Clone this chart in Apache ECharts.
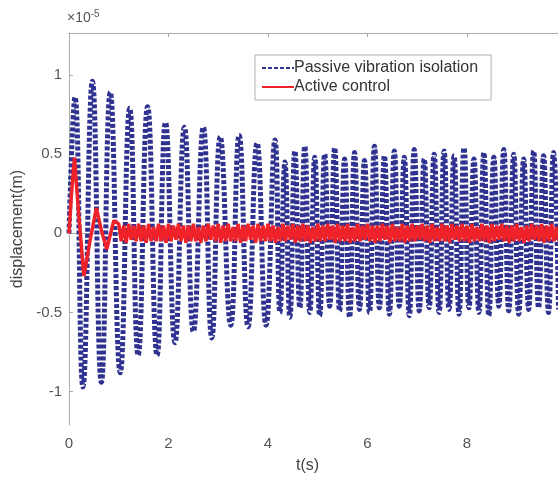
<!DOCTYPE html>
<html>
<head>
<meta charset="utf-8">
<script src="https://cdn.jsdelivr.net/npm/echarts@6/dist/echarts.min.js"></script>
<style>html,body{margin:0;padding:0;background:#fff}#c{width:558px;height:481px}</style>
</head>
<body>
<div id="c"></div>
<script>
// x tick labels and y tick labels (y in units of 1e-5 m)
const xTicks = [0, 2, 4, 6, 8];
const yTicks = [-1, -0.5, 0, 0.5, 1];

// Passive vibration isolation: extrema (t in s, displacement in 1e-5 m)
const passiveT = [0, 0.12, 0.28, 0.47, 0.65, 0.83, 1.03, 1.22, 1.39, 1.58, 1.77, 1.94, 2.13, 2.32, 2.50, 2.70, 2.87, 3.04, 3.25, 3.42, 3.60, 3.78, 3.96,
  4.14, 4.24, 4.34, 4.44, 4.54, 4.64, 4.74, 4.84, 4.94, 5.04, 5.14, 5.24, 5.34, 5.44, 5.54, 5.64, 5.74, 5.84, 5.94, 6.04,
  6.14, 6.24, 6.34, 6.44, 6.54, 6.64, 6.74, 6.84, 6.94, 7.04, 7.14, 7.24, 7.34, 7.44, 7.54, 7.64, 7.74, 7.84, 7.94, 8.04,
  8.14, 8.24, 8.34, 8.44, 8.54, 8.64, 8.74, 8.84, 8.94, 9.04, 9.14, 9.24, 9.34, 9.44, 9.54, 9.64, 9.74, 9.84];
const passiveV = [0, 0.86, -0.97, 0.96, -0.94, 0.89, -0.88, 0.79, -0.77, 0.80, -0.77, 0.70, -0.69, 0.67, -0.62, 0.67, -0.66, 0.61, -0.58, 0.62, -0.59, 0.57, -0.58,
  0.59, -0.50, 0.45, -0.53, 0.52, -0.47, 0.55, -0.50, 0.48, -0.52, 0.50, -0.46, 0.54, -0.49, 0.47, -0.53, 0.51, -0.48, 0.46, -0.50,
  0.55, -0.47, 0.49, -0.51, 0.52, -0.46, 0.48, -0.52, 0.53, -0.49, 0.47, -0.47, 0.50, -0.50, 0.52, -0.48, 0.49, -0.51, 0.54, -0.47,
  0.47, -0.50, 0.51, -0.52, 0.48, -0.46, 0.53, -0.49, 0.50, -0.51, 0.47, -0.48, 0.52, -0.47, 0.49, -0.50, 0.51, -0.48];

// Active control: initial transient extrema
const activeT0 = [0, 0.05, 0.11, 0.20, 0.30, 0.42, 0.55, 0.65, 0.76, 0.90];
const activeV0 = [0, 0.25, 0.48, 0.10, -0.27, -0.05, 0.16, 0.02, -0.10, 0.08];
// Active control: residual band, sampled every 0.05 s from t = 1.0 s
const activeBandStart = 1.0;
const activeBandStep = 0.05;
const activeBand = [
 0.06,-0.05,0.05,-0.06,0.06,-0.04,0.05,-0.05,0.06,-0.05,
 0.05,-0.06,0.06,-0.05,0.04,-0.05,0.06,-0.05,0.05,-0.06,
 0.06,-0.05,0.05,-0.04,0.06,-0.05,0.05,-0.06,0.05,-0.05,
 0.06,-0.05,0.04,-0.06,0.05,-0.05,0.06,-0.04,0.05,-0.05,
 0.06,-0.06,0.05,-0.05,0.06,-0.05,0.04,-0.05,0.06,-0.06,
 0.05,-0.05,0.06,-0.04,0.05,-0.06,0.06,-0.05,0.05,-0.05,
 0.06,-0.05,0.05,-0.06,0.04,-0.05,0.06,-0.05,0.05,-0.04,
 0.06,-0.06,0.05,-0.05,0.06,-0.05,0.05,-0.06,0.04,-0.05,
 0.06,-0.05,0.05,-0.05,0.06,-0.04,0.05,-0.06,0.06,-0.05,
 0.05,-0.05,0.06,-0.06,0.04,-0.05,0.06,-0.05,0.05,-0.04,
 0.06,-0.05,0.05,-0.06,0.05,-0.05,0.06,-0.04,0.05,-0.06,
 0.06,-0.05,0.04,-0.05,0.06,-0.06,0.05,-0.05,0.06,-0.05,
 0.05,-0.04,0.06,-0.05,0.05,-0.06,0.06,-0.05,0.04,-0.05,
 0.06,-0.05,0.05,-0.06,0.06,-0.04,0.05,-0.05,0.06,-0.05,
 0.05,-0.06,0.06,-0.05,0.04,-0.05,0.06,-0.05,0.05,-0.06,
 0.06,-0.05,0.05,-0.04,0.06,-0.05,0.05,-0.06,0.05,-0.05,
 0.06,-0.05,0.04,-0.06,0.05,-0.05,0.06,-0.04,0.05,-0.05,
 0.06,-0.06,0.05,-0.05,0.06,-0.05,0.04,-0.05,0.06,-0.05
];

const passiveData = passiveT.map((t, i) => [t, passiveV[i]]);
const activeData = activeT0.map((t, i) => [t, activeV0[i]])
  .concat(activeBand.map((v, i) => [activeBandStart + i * activeBandStep, v]));

const axisColor = '#ababab';
const labelColor = '#555';
const font = 'Liberation Sans, Arial, sans-serif';
const xMax = 9.83; // the picture is cropped just before t = 10

const chart = echarts.init(document.getElementById('c'), null, {renderer: 'canvas'});
chart.setOption({
  backgroundColor: '#fff',
  animation: false,
  grid: {left: 69, top: 33, bottom: 56, right: 0, show: false},
  legend: {
    orient: 'vertical', left: 255, top: 55,
    backgroundColor: '#fff', borderColor: '#b0b0b0', borderWidth: 1,
    padding: [5, 13, 5, 6], itemGap: 3, itemWidth: 32, itemHeight: 16,
    itemStyle: {opacity: 0},
    lineStyle: {width: 2},
    textStyle: {fontFamily: font, fontSize: 16, color: '#333', padding: [0, 0, 0, -5]},
    data: ['Passive vibration isolation', 'Active control']
  },
  graphic: [{
    type: 'text', left: 67, top: 9,
    style: {
      text: '{a|×10}{b|-5}',
      rich: {
        a: {fontFamily: font, fontSize: 14, fill: labelColor},
        b: {fontFamily: font, fontSize: 10, fill: labelColor, padding: [0, 0, 9, 0]}
      }
    }
  }],
  xAxis: [{
    type: 'value', min: 0, max: xMax, position: 'bottom',
    name: 't(s)', nameLocation: 'middle', nameGap: 33,
    nameTextStyle: {fontFamily: font, fontSize: 16, color: '#444', padding: [0, 12, 0, 0]},
    axisLine: {show: true, lineStyle: {color: axisColor}},
    axisTick: {show: true, inside: true, length: 4, customValues: xTicks, lineStyle: {color: axisColor}},
    axisLabel: {customValues: xTicks, fontFamily: font, fontSize: 15, color: labelColor, margin: 11},
    splitLine: {show: false}
  }, {
    type: 'value', min: 0, max: xMax, position: 'top',
    axisLine: {show: true, lineStyle: {color: axisColor}},
    axisTick: {show: true, inside: true, length: 4, customValues: xTicks, lineStyle: {color: axisColor}},
    axisLabel: {show: false},
    splitLine: {show: false}
  }],
  yAxis: {
    type: 'value', min: -1.21, max: 1.265,
    name: 'displacement(m)', nameLocation: 'middle', nameGap: 40,
    nameTextStyle: {fontFamily: font, fontSize: 16, color: '#444'},
    axisLine: {show: true, lineStyle: {color: axisColor}},
    axisTick: {show: true, inside: true, length: 4, customValues: yTicks, lineStyle: {color: axisColor}},
    axisLabel: {customValues: yTicks, fontFamily: font, fontSize: 15, color: labelColor, margin: 7},
    splitLine: {show: false}
  },
  series: [{
    name: 'Passive vibration isolation', type: 'line', xAxisIndex: 0,
    data: passiveData, showSymbol: false, symbol: 'none', smooth: 0.5,
    lineStyle: {color: '#2f3290', width: 5, type: [4, 2]},
    itemStyle: {color: '#2f3290'}
  }, {
    name: 'Active control', type: 'line', xAxisIndex: 0,
    data: activeData, showSymbol: false, symbol: 'none',
    lineStyle: {color: '#ee2228', width: 3.5},
    itemStyle: {color: '#ee2228'}
  }]
});
</script>
</body>
</html>
